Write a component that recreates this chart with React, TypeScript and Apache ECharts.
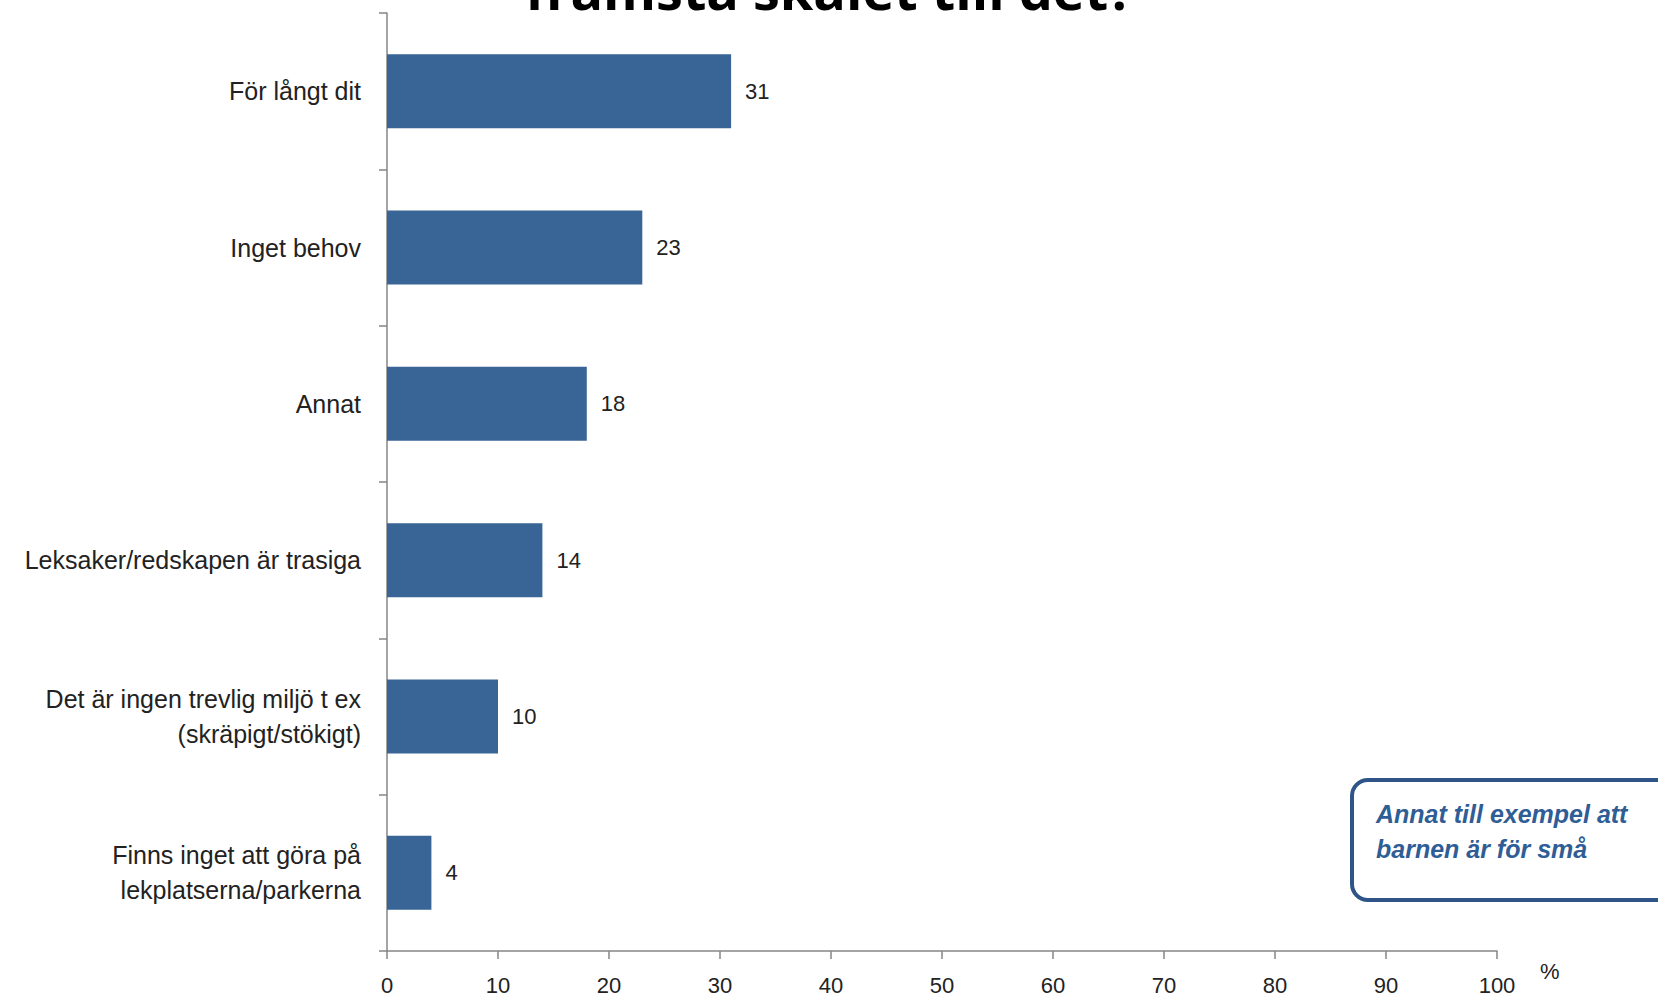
import React, { useEffect, useRef } from "react";
import * as echarts from "echarts";

const categories = [
  "För långt dit",
  "Inget behov",
  "Annat",
  "Leksaker/redskapen är trasiga",
  "Det är ingen trevlig miljö t ex\n(skräpigt/stökigt)",
  "Finns inget att göra på\nlekplatserna/parkerna",
];
const values = [31, 23, 18, 14, 10, 4];
const titleText = "främsta skälet till det?";
const noteText = "Annat till exempel att\nbarnen är för små";
const unitLabel = "%";

const FONT = "'Liberation Sans', sans-serif";

export default function App() {
  const ref = useRef<HTMLDivElement>(null);
  useEffect(() => {
    document.body.style.margin = "0";
    const chart = echarts.init(ref.current!, null, { renderer: "svg" });
    chart.setOption({
      animation: false,
      backgroundColor: "#ffffff",
      textStyle: { fontFamily: FONT },
      grid: { left: 387, right: 161, top: 13, bottom: 46, containLabel: false },
      xAxis: {
        type: "value",
        min: 0,
        max: 100,
        interval: 10,
        axisLine: { show: true, lineStyle: { color: "#868686", width: 1.5 } },
        axisTick: { show: true, length: 8, lineStyle: { color: "#868686", width: 1.5 } },
        splitLine: { show: false },
        axisLabel: { color: "#222", fontSize: 22, fontFamily: FONT, margin: 23 },
      },
      yAxis: {
        type: "category",
        data: categories,
        inverse: true,
        axisLine: { show: true, lineStyle: { color: "#868686", width: 1.5 } },
        axisTick: { show: true, length: 8, lineStyle: { color: "#868686", width: 1.5 } },
        axisLabel: {
          color: "#222",
          fontSize: 25,
          lineHeight: 35,
          fontFamily: FONT,
          margin: 26,
          align: "right",
        },
      },
      series: [
        {
          type: "bar",
          data: values,
          barWidth: 74,
          itemStyle: { color: "#386595" },
          label: {
            show: true,
            position: "right",
            distance: 14,
            color: "#222",
            fontSize: 22,
            fontFamily: FONT,
          },
        },
      ],
      graphic: [
        {
          type: "text",
          left: 525,
          top: -38,
          style: {
            text: titleText,
            font: "bold 54px 'Open Sans', sans-serif",
            fill: "#000",
          },
        },
        {
          type: "rect",
          shape: { x: 1352, y: 780, width: 330, height: 120, r: 16 },
          style: { fill: "#ffffff", stroke: "#2f5588", lineWidth: 4 },
        },
        {
          type: "text",
          x: 1376,
          y: 796,
          style: {
            text: noteText,
            font: "italic bold 25px 'Liberation Sans', sans-serif",
            lineHeight: 35,
            fill: "#2f5d96",
          },
        },
        {
          type: "text",
          x: 1540,
          y: 960,
          style: {
            text: unitLabel,
            font: "22px 'Liberation Sans', sans-serif",
            fill: "#222",
          },
        },
      ],
    });
    return () => chart.dispose();
  }, []);
  return <div ref={ref} style={{ width: 1658, height: 997 }} />;
}
